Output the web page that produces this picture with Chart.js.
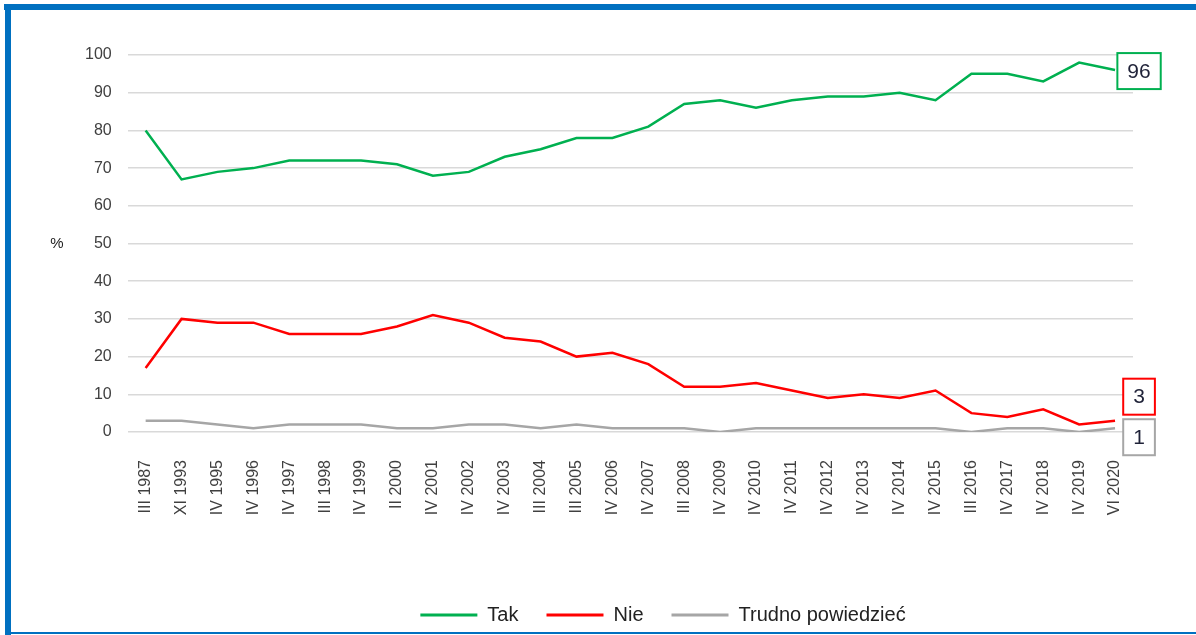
<!DOCTYPE html>
<html>
<head>
<meta charset="utf-8">
<script src="https://cdn.jsdelivr.net/npm/chart.js@4"></script>
<style>
    html, body { margin: 0; padding: 0; background: #fff; overflow: hidden; }
    #wrap { position: absolute; left: 0; top: 0; width: 1196px; height: 635px; }
    .frame { position: absolute; background: #0070c0; }
</style>
</head>
<body>
<div id="wrap"><canvas id="chart"></canvas></div>
<div class="frame" style="left:4px; top:4px; width:1192px; height:6px;"></div>
<div class="frame" style="left:5px; top:4px; width:6px; height:631px;"></div>
<div class="frame" style="left:5px; top:632px; width:1191px; height:2px;"></div>
<script>
// Survey dates (x categories)
const labels = ['III 1987', 'XI 1993', 'IV 1995', 'IV 1996', 'IV 1997', 'III 1998', 'IV 1999', 'II 2000',
    'IV 2001', 'IV 2002', 'IV 2003', 'III 2004', 'III 2005', 'IV 2006', 'IV 2007', 'III 2008', 'IV 2009',
    'IV 2010', 'IV 2011', 'IV 2012', 'IV 2013', 'IV 2014', 'IV 2015', 'III 2016', 'IV 2017', 'IV 2018',
    'IV 2019', 'VI 2020'];

// Answers in %
const takValues = [80, 67, 69, 70, 72, 72, 72, 71, 68, 69, 73, 75, 78, 78, 81, 87, 88, 86, 88, 89, 89, 90, 88, 95, 95, 93, 98, 96];
const nieValues = [17, 30, 29, 29, 26, 26, 26, 28, 31, 29, 25, 24, 20, 21, 18, 12, 12, 13, 11, 9, 10, 9, 11, 5, 4, 6, 2, 3];
const trudnoValues = [3, 3, 2, 1, 2, 2, 2, 1, 1, 2, 2, 1, 2, 1, 1, 1, 0, 1, 1, 1, 1, 1, 1, 0, 1, 1, 0, 1];

const yTicks = [0, 10, 20, 30, 40, 50, 60, 70, 80, 90, 100];

const FONT = "'Liberation Sans', Arial, sans-serif";
const TEXT = '#404040';

// Boxed value for the last point of each series
const endLabels = {
    id: 'endLabels',
    afterDatasetsDraw(chart, args, opts) {
        const ctx = chart.ctx;
        ctx.save();
        ctx.font = '21px ' + FONT;
        ctx.textAlign = 'center';
        ctx.textBaseline = 'middle';
        chart.data.datasets.forEach((ds, i) => {
            const meta = chart.getDatasetMeta(i);
            const pt = meta.data[meta.data.length - 1];
            const text = String(ds.data[ds.data.length - 1]);
            const w = ctx.measureText(text).width + 20;
            const h = 36;
            const cx = pt.x + opts.dx;
            const cy = pt.y + opts.dy[i];
            ctx.fillStyle = '#fff';
            ctx.fillRect(cx - w / 2, cy - h / 2, w, h);
            ctx.strokeStyle = ds.borderColor;
            ctx.lineWidth = 2;
            ctx.strokeRect(cx - w / 2, cy - h / 2, w, h);
            ctx.fillStyle = '#1f2238';
            ctx.fillText(text, cx, cy + 1);
        });
        ctx.restore();
    }
};

// Unrotated "%" beside the y axis
const percentLabel = {
    id: 'percentLabel',
    afterDraw(chart) {
        const ctx = chart.ctx;
        ctx.save();
        ctx.font = '15px ' + FONT;
        ctx.fillStyle = '#222';
        ctx.textAlign = 'center';
        ctx.textBaseline = 'middle';
        ctx.fillText('%', 57, (chart.chartArea.top + chart.chartArea.bottom) / 2);
        ctx.restore();
    }
};

// the legend sits right of the canvas centre in the original
const legendShift = {
    id: 'legendShift',
    afterLayout(chart, args, opts) {
        chart.legend.left += opts.dx;
        chart.legend.right += opts.dx;
    }
};

new Chart(document.getElementById('chart'), {
    type: 'line',
    data: {
        labels: labels,
        datasets: [
            { label: 'Tak', data: takValues, borderColor: '#00b050', backgroundColor: '#00b050' },
            { label: 'Nie', data: nieValues, borderColor: '#ff0000', backgroundColor: '#ff0000' },
            { label: 'Trudno powiedzieć', data: trudnoValues, borderColor: '#a6a6a6', backgroundColor: '#a6a6a6' }
        ]
    },
    options: {
        responsive: true,
        maintainAspectRatio: false,
        animation: false,
        elements: {
            line: { borderWidth: 2.5, tension: 0 },
            point: { radius: 0 }
        },
        layout: { padding: { top: 55, left: 69, right: 63, bottom: 0 } },
        scales: {
            x: {
                offset: true,
                grid: { display: false },
                border: { display: false },
                ticks: {
                    autoSkip: false,
                    minRotation: 90,
                    maxRotation: 90,
                    padding: 20,
                    color: TEXT,
                    font: { family: FONT, size: 16 }
                },
                afterFit(scale) { scale.height = 145; }
            },
            y: {
                min: 0,
                max: 100,
                border: { display: false },
                grid: { color: '#d9d9d9', lineWidth: 1.5, drawTicks: false },
                afterBuildTicks(scale) { scale.ticks = yTicks.map(v => ({ value: v })); },
                ticks: {
                    padding: 16,
                    color: TEXT,
                    font: { family: FONT, size: 16 }
                }
            }
        },
        plugins: {
            legend: {
                position: 'bottom',
                labels: {
                    boxWidth: 57,
                    boxHeight: 3,
                    padding: 28,
                    color: '#222',
                    font: { family: FONT, size: 20 },
                    generateLabels(chart) {
                        return Chart.defaults.plugins.legend.labels.generateLabels(chart)
                            .map(l => ({ ...l, lineWidth: 0 }));
                    }
                }
            },
            tooltip: { enabled: false },
            endLabels: { dx: 24, dy: [1, -24, 9] },
            legendShift: { dx: 62 }
        }
    },
    plugins: [endLabels, percentLabel, legendShift]
});
</script>
</body>
</html>
